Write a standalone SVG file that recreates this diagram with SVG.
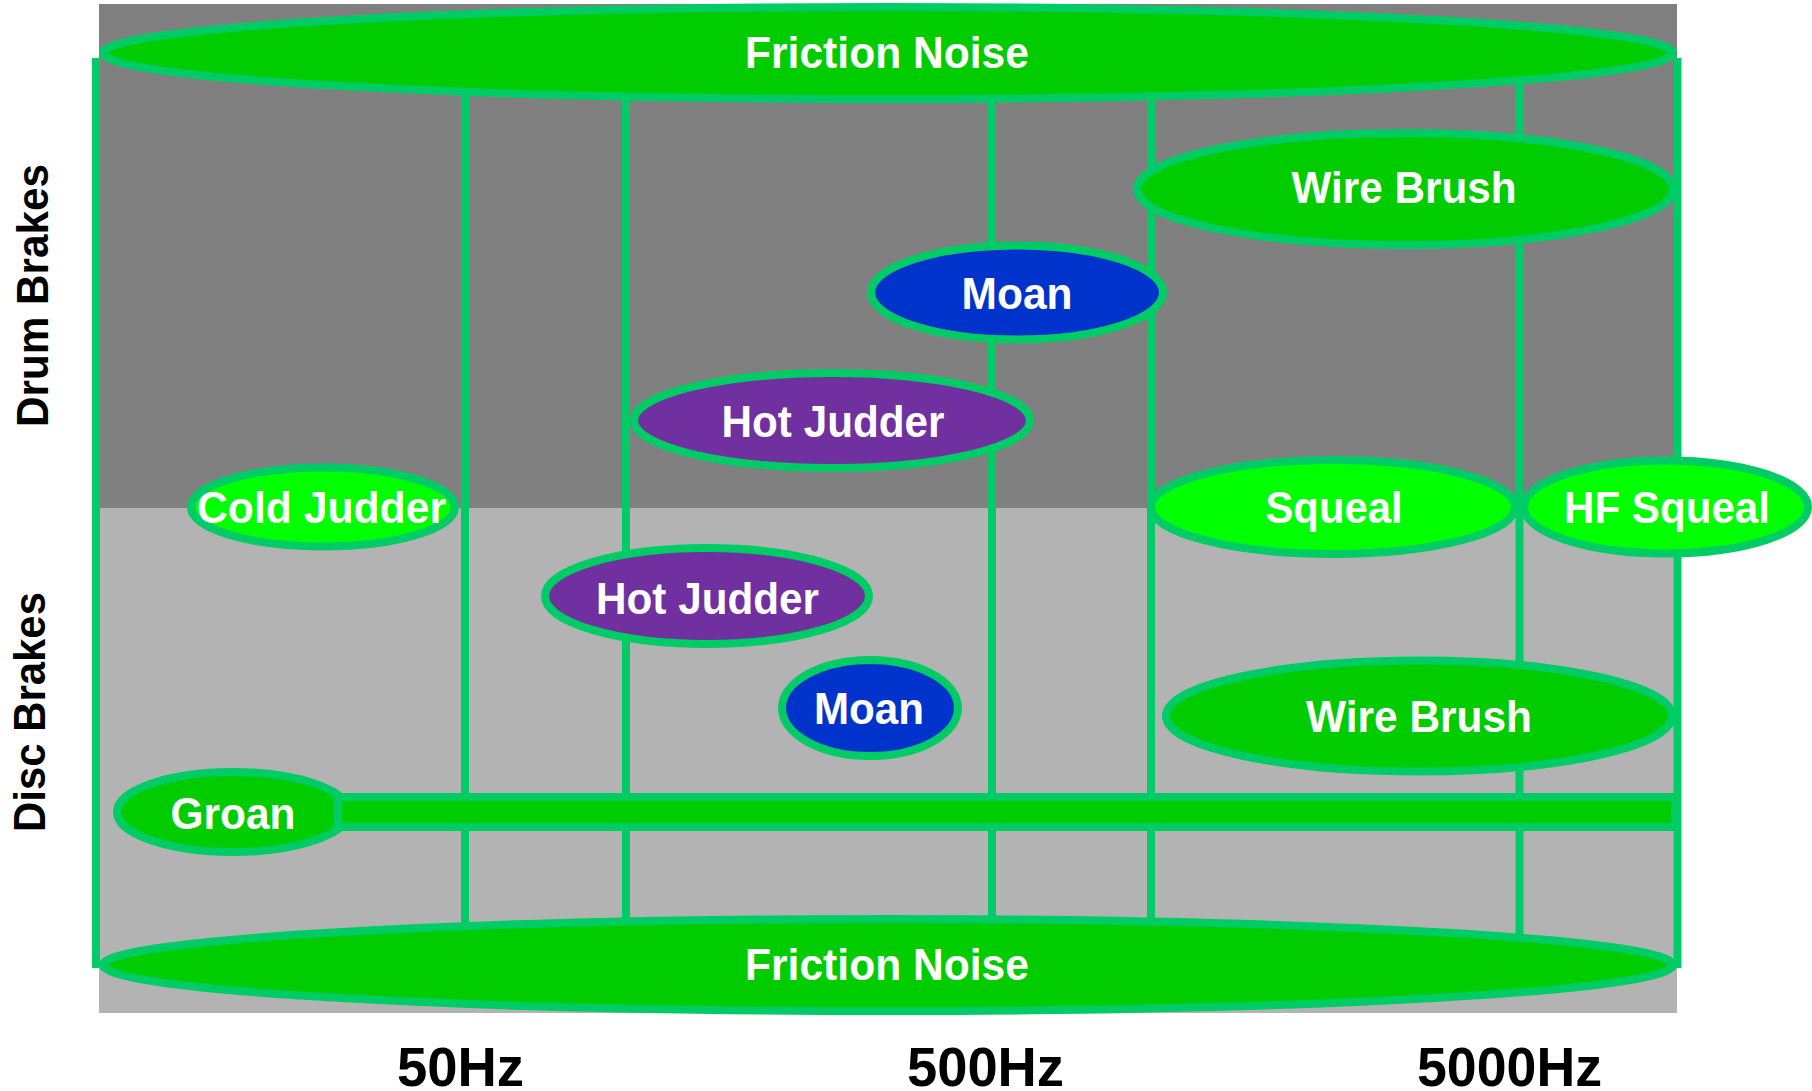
<svg xmlns="http://www.w3.org/2000/svg" width="1812" height="1091" viewBox="0 0 1812 1091">
<style>
.node ellipse, .bar { stroke: #00cc66; stroke-width: 8; }
.conn line { stroke: #00cc66; stroke-width: 8; }
.g1 { fill: #00cc00; }
.g2 { fill: #00ff00; }
.pu { fill: #7030a0; }
.bl { fill: #0033cc; }
.lbl { font-family: "Liberation Sans", Arial, sans-serif; font-weight: bold; font-size: 44px; fill: #ffffff; text-anchor: middle; }
.axis { font-family: "Liberation Sans", Arial, sans-serif; font-weight: bold; font-size: 44px; fill: #000000; text-anchor: middle; }
.freq { font-family: "Liberation Sans", Arial, sans-serif; font-weight: bold; font-size: 56px; fill: #000000; }
</style>
<rect width="1812" height="1091" fill="#ffffff"/>
<rect x="99" y="4" width="1578" height="504" fill="#808080"/>
<rect x="99" y="508" width="1578" height="505" fill="#b3b3b3"/>

<g id="connectors" class="conn">
  <line x1="96" y1="58" x2="96" y2="968"/>
  <line x1="1677.5" y1="58" x2="1677.5" y2="968"/>
  <line x1="465" y1="53" x2="465" y2="965"/>
  <line x1="626" y1="53" x2="626" y2="965"/>
  <line x1="992" y1="53" x2="992" y2="965"/>
  <line x1="1151" y1="53" x2="1151" y2="965"/>
  <line x1="1519.5" y1="53" x2="1519.5" y2="965"/>
</g>

<g id="friction-top" class="node">
  <ellipse class="g1" cx="888" cy="53" rx="785" ry="46"/>
  <text class="lbl" x="887" y="68" textLength="284" lengthAdjust="spacingAndGlyphs">Friction Noise</text>
</g>
<g id="friction-bottom" class="node">
  <ellipse class="g1" cx="888" cy="965" rx="785" ry="46"/>
  <text class="lbl" x="887" y="980" textLength="284" lengthAdjust="spacingAndGlyphs">Friction Noise</text>
</g>
<g id="wire-brush-drum" class="node">
  <ellipse class="g1" cx="1405" cy="189" rx="268" ry="56"/>
  <text class="lbl" x="1404" y="203" textLength="225" lengthAdjust="spacingAndGlyphs">Wire Brush</text>
</g>
<g id="moan-drum" class="node">
  <ellipse class="bl" cx="1017" cy="292.5" rx="146" ry="47"/>
  <text class="lbl" x="1017" y="308.5" textLength="111" lengthAdjust="spacingAndGlyphs">Moan</text>
</g>
<g id="hot-judder-drum" class="node">
  <ellipse class="pu" cx="832" cy="420.5" rx="198" ry="47.5"/>
  <text class="lbl" x="833" y="437" textLength="223" lengthAdjust="spacingAndGlyphs">Hot Judder</text>
</g>
<g id="cold-judder" class="node">
  <ellipse class="g2" cx="323" cy="507" rx="132" ry="39.5"/>
  <text class="lbl" x="321.5" y="522.5" textLength="249" lengthAdjust="spacingAndGlyphs">Cold Judder</text>
</g>
<g id="squeal" class="node">
  <ellipse class="g2" cx="1333" cy="507" rx="182" ry="47"/>
  <text class="lbl" x="1334" y="522.5" textLength="137" lengthAdjust="spacingAndGlyphs">Squeal</text>
</g>
<g id="hf-squeal" class="node">
  <ellipse class="g2" cx="1666" cy="507" rx="142" ry="46.5"/>
  <text class="lbl" x="1667" y="523" textLength="206" lengthAdjust="spacingAndGlyphs">HF Squeal</text>
</g>
<g id="hot-judder-disc" class="node">
  <ellipse class="pu" cx="707" cy="596" rx="162" ry="48"/>
  <text class="lbl" x="707.5" y="613.5" textLength="223" lengthAdjust="spacingAndGlyphs">Hot Judder</text>
</g>
<g id="moan-disc" class="node">
  <ellipse class="bl" cx="870" cy="708" rx="88" ry="48"/>
  <text class="lbl" x="869" y="724" textLength="110" lengthAdjust="spacingAndGlyphs">Moan</text>
</g>
<g id="wire-brush-disc" class="node">
  <ellipse class="g1" cx="1419" cy="716" rx="253" ry="55.5"/>
  <text class="lbl" x="1419" y="732" textLength="226" lengthAdjust="spacingAndGlyphs">Wire Brush</text>
</g>
<g id="groan" class="node">
  <ellipse class="g1" cx="233" cy="812" rx="116" ry="40"/>
  <rect class="bar g1" x="338" y="797" width="1337" height="30"/>
  <text class="lbl" x="233" y="829" textLength="125" lengthAdjust="spacingAndGlyphs">Groan</text>
</g>

<g id="axis-labels">
  <text class="axis" transform="translate(47.5 295.5) rotate(-90)" textLength="263" lengthAdjust="spacingAndGlyphs">Drum Brakes</text>
  <text class="axis" transform="translate(45 712) rotate(-90)" textLength="240" lengthAdjust="spacingAndGlyphs">Disc Brakes</text>
  <text class="freq" x="397" y="1086" textLength="127" lengthAdjust="spacingAndGlyphs">50Hz</text>
  <text class="freq" x="907" y="1086" textLength="157" lengthAdjust="spacingAndGlyphs">500Hz</text>
  <text class="freq" x="1417" y="1086" textLength="185" lengthAdjust="spacingAndGlyphs">5000Hz</text>
</g>
</svg>
